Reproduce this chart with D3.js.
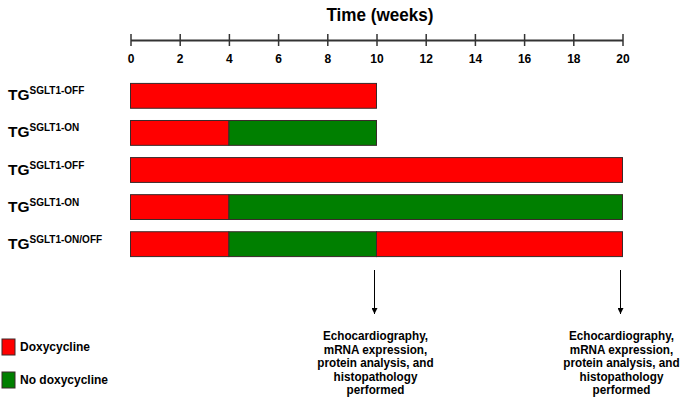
<!DOCTYPE html>
<html><head><meta charset="utf-8">
<script src="https://cdn.jsdelivr.net/npm/d3@7"></script>
<style>body{margin:0;background:#fff}svg{display:block;font-family:"Liberation Sans",Arial,sans-serif}</style>
</head><body><svg id="c" width="682" height="405"></svg>
<script>
const title = "Time (weeks)";
const tickValues = [0,2,4,6,8,10,12,14,16,18,20];
const groupLabels = ["SGLT1-OFF","SGLT1-ON","SGLT1-OFF","SGLT1-ON","SGLT1-ON/OFF"];
const segStarts = [[0],[0,4],[0],[0,4],[0,4,10]];
const segEnds = [[10],[4,10],[20],[4,20],[4,10,20]];
const segTreat = [["Doxycycline"],["Doxycycline","No doxycycline"],["Doxycycline"],["Doxycycline","No doxycycline"],["Doxycycline","No doxycycline","Doxycycline"]];
const treatments = ["Doxycycline","No doxycycline"];
const endpoints = [10,20];
const endpointText = ["Echocardiography,","mRNA expression,","protein analysis, and","histopathology","performed"];

const svg = d3.select("#c");
const x = d3.scaleLinear().domain([0,20]).range([130.5,622.5]);
const y = d3.scaleBand().domain(d3.range(groupLabels.length)).range([76,264]).paddingInner(0.33).paddingOuter(0.2);
const color = d3.scaleOrdinal().domain(treatments).range(["#ff0000","#007f00"]);

svg.append("text").attr("transform","translate(380,21) scale(0.95,1.05)").attr("text-anchor","middle")
  .attr("font-size",18).attr("font-weight","bold").text(title);

const axis = d3.axisBottom(x).tickValues(tickValues).tickSize(0).tickPadding(0);
const ag = svg.append("g").attr("transform","translate(0,40)").call(axis);
ag.select(".domain").attr("stroke","#333").attr("stroke-width",2);
ag.selectAll(".tick line").attr("y1",-6).attr("y2",6).attr("stroke","#333").attr("stroke-width",1.5);
ag.selectAll(".tick text").attr("y",23).attr("dy",null).attr("fill","#000")
  .attr("font-size",12).attr("font-weight","bold").attr("font-family","Liberation Sans, Arial, sans-serif");

const rowsG = svg.selectAll("g.row").data(groupLabels).join("g").attr("class","row");
rowsG.each(function(lbl,i){
  const g = d3.select(this);
  const t = g.append("text").attr("x",8).attr("y",y(i)+y.bandwidth()/2+4.5)
    .attr("font-weight","bold").attr("font-size",15.5);
  t.append("tspan").text("TG");
  t.append("tspan").attr("dy",-6).attr("font-size",10).text(lbl);
  segStarts[i].forEach((s,j)=>{
    g.append("rect").attr("x",x(s)).attr("y",y(i))
      .attr("width",x(segEnds[i][j])-x(s)).attr("height",y.bandwidth())
      .attr("fill",color(segTreat[i][j])).attr("stroke","#3a2a2a").attr("stroke-width",1);
  });
});

const defs = svg.append("defs");
defs.append("marker").attr("id","ah").attr("viewBox","0 0 10 10").attr("refX",10).attr("refY",5)
  .attr("markerWidth",6).attr("markerHeight",6).attr("orient","auto")
  .append("path").attr("d","M0,0L10,5L0,10z").attr("fill","#000");

endpoints.forEach(e=>{
  svg.append("line").attr("x1",x(e)-2).attr("x2",x(e)-2).attr("y1",270).attr("y2",314)
    .attr("stroke","#000").attr("stroke-width",1).attr("marker-end","url(#ah)");
  const t = svg.append("text").attr("transform",`translate(${x(e)-1},0) scale(0.9,1)`)
    .attr("text-anchor","middle").attr("font-size",13).attr("font-weight","bold");
  endpointText.forEach((s,k)=>{
    t.append("tspan").attr("x",0).attr("y",340+k*13.6).text(s);
  });
});

const lg = svg.selectAll("g.leg").data(treatments).join("g").attr("class","leg")
  .attr("transform",(d,i)=>`translate(2,${339+i*33})`);
lg.append("rect").attr("width",13).attr("height",16).attr("fill",d=>color(d)).attr("stroke","#3a2a2a");
lg.append("text").attr("x",18).attr("y",12).attr("font-size",12).attr("font-weight","bold").text(d=>d);
</script></body></html>
